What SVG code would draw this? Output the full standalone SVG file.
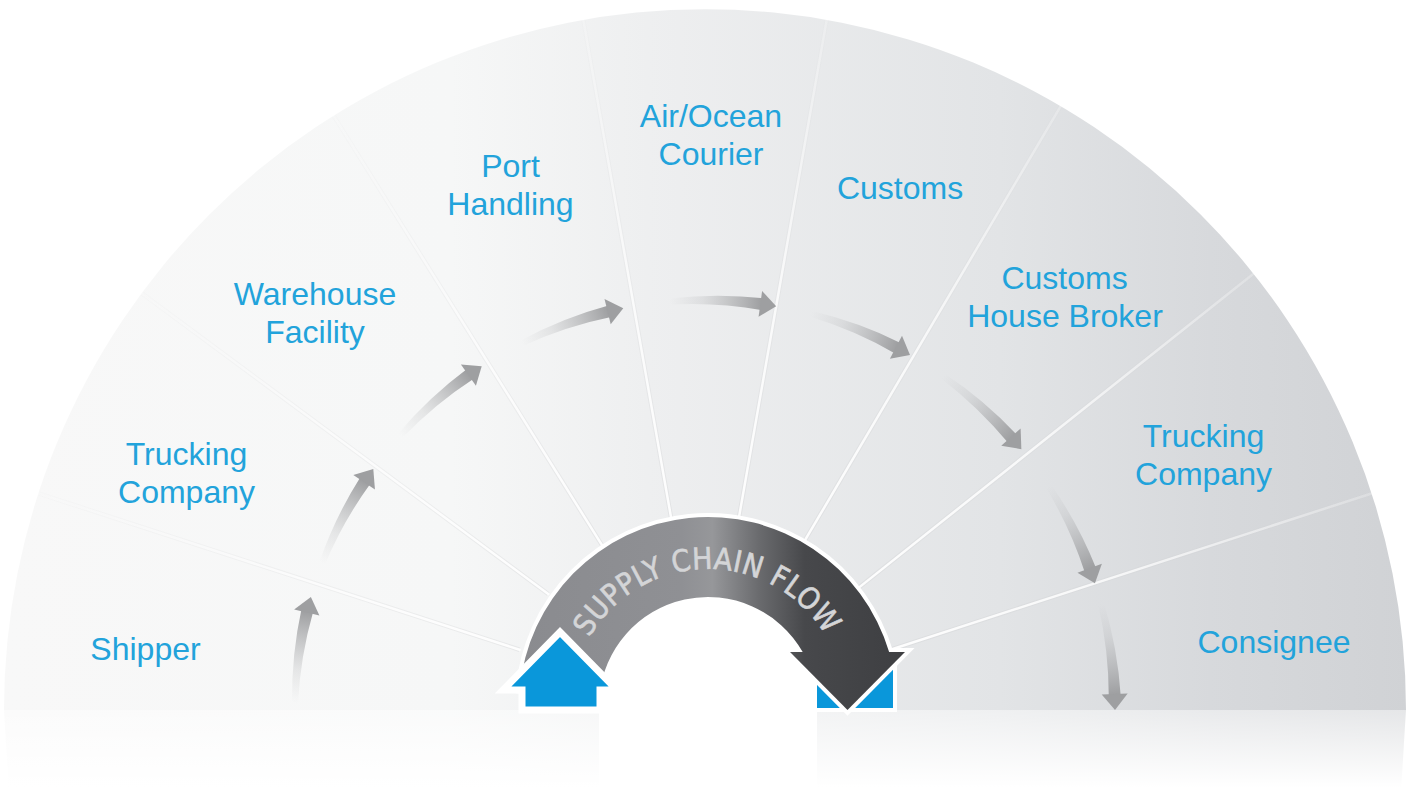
<svg xmlns="http://www.w3.org/2000/svg" width="1408" height="796" viewBox="0 0 1408 796">
<style>
.lbl{font-family:"Liberation Sans",Arial,sans-serif;font-size:32px;fill:#22a3db;text-anchor:middle}
.divs{stroke:url(#divGrad);stroke-width:2.5;stroke-linecap:round}
.divsh{stroke:url(#divShGrad);stroke-width:4.5}
.outline{fill:#ffffff;stroke:#ffffff;stroke-width:8;stroke-linejoin:miter}
.flowtxt{font-family:"DejaVu Sans Condensed","Liberation Sans Narrow","Liberation Sans",sans-serif;font-size:30px;font-weight:normal;fill:#d4d5d7;stroke:#d4d5d7;stroke-width:0.6}
</style>
<defs>
<linearGradient id="fanGrad" gradientUnits="userSpaceOnUse" x1="0" y1="0" x2="1408" y2="0">
<stop offset="0" stop-color="#f8f8f8"/>
<stop offset="0.32" stop-color="#f6f7f7"/>
<stop offset="0.46" stop-color="#eeeff0"/>
<stop offset="0.71" stop-color="#e2e4e6"/>
<stop offset="0.86" stop-color="#d7d9dc"/>
<stop offset="1" stop-color="#d0d2d5"/>
</linearGradient>
<linearGradient id="reflFade" x1="0" y1="0" x2="0" y2="1">
<stop offset="0" stop-color="#ffffff" stop-opacity="0.45"/>
<stop offset="0.9" stop-color="#ffffff" stop-opacity="1"/>
<stop offset="1" stop-color="#ffffff" stop-opacity="1"/>
</linearGradient>
<radialGradient id="divGrad" gradientUnits="userSpaceOnUse" cx="705" cy="710" r="701">
<stop offset="0.27" stop-color="#ffffff" stop-opacity="0.95"/>
<stop offset="0.6" stop-color="#ffffff" stop-opacity="0.8"/>
<stop offset="1" stop-color="#ffffff" stop-opacity="0.25"/>
</radialGradient>
<radialGradient id="divShGrad" gradientUnits="userSpaceOnUse" cx="705" cy="710" r="701">
<stop offset="0.27" stop-color="#c9cacc" stop-opacity="0.3"/>
<stop offset="1" stop-color="#c9cacc" stop-opacity="0.05"/>
</radialGradient>
<linearGradient id="bandGrad" gradientUnits="userSpaceOnUse" x1="520" y1="0" x2="905" y2="0">
<stop offset="0" stop-color="#8a8b8f"/>
<stop offset="0.42" stop-color="#8f9094"/>
<stop offset="0.5" stop-color="#96979a"/>
<stop offset="0.62" stop-color="#6a6b6e"/>
<stop offset="0.74" stop-color="#47484b"/>
<stop offset="1" stop-color="#3e3f42"/>
</linearGradient>
<linearGradient id="arrowGrad" gradientUnits="userSpaceOnUse" x1="295" y1="710" x2="306" y2="617">
<stop offset="0" stop-color="#b8b9bb" stop-opacity="0"/>
<stop offset="0.35" stop-color="#b0b1b3" stop-opacity="0.25"/>
<stop offset="1" stop-color="#9c9d9f" stop-opacity="1"/>
</linearGradient>
<g id="flowArrow">
<path d="M292,710 A413,413 0 0 1 299.99,615.01 L311.67,617.75 A407,407 0 0 0 298,710 Z" fill="url(#arrowGrad)"/>
<polygon points="308.97,603.88 292.45,616.58 317.81,622.32" fill="#9e9fa1"/>
</g>
<path id="flowArc" d="M589.35,637.5 A137,137 0 0 1 826.65,637.5" fill="none"/>
</defs>

<g id="background">
<path d="M4,710 A701,701 0 0 1 1406,710 Z" fill="url(#fanGrad)"/>
<path d="M4,710 L1406,710 L1400.7,796 L9.3,796 Z" fill="url(#fanGrad)"/>
<rect x="0" y="710" width="1408" height="86" fill="url(#reflFade)"/>
</g>

<g id="dividers">
<g class="divsh">
<line x1="519.54" y1="649.74" x2="39.26" y2="493.69"/>
<line x1="548.25" y1="594.01" x2="142.30" y2="293.63"/>
<line x1="601.67" y1="544.63" x2="334.06" y2="116.37"/>
<line x1="671.14" y1="517.96" x2="583.45" y2="20.63"/>
<line x1="738.86" y1="517.96" x2="826.55" y2="20.63"/>
<line x1="803.97" y1="541.98" x2="1060.28" y2="106.86"/>
<line x1="857.61" y1="588.61" x2="1252.83" y2="274.24"/>
<line x1="890.46" y1="649.74" x2="1370.74" y2="493.69"/>
</g>
<g class="divs">
<line x1="519.54" y1="649.74" x2="39.26" y2="493.69"/>
<line x1="548.25" y1="594.01" x2="142.30" y2="293.63"/>
<line x1="601.67" y1="544.63" x2="334.06" y2="116.37"/>
<line x1="671.14" y1="517.96" x2="583.45" y2="20.63"/>
<line x1="738.86" y1="517.96" x2="826.55" y2="20.63"/>
<line x1="803.97" y1="541.98" x2="1060.28" y2="106.86"/>
<line x1="857.61" y1="588.61" x2="1252.83" y2="274.24"/>
<line x1="890.46" y1="649.74" x2="1370.74" y2="493.69"/>
</g>
</g>

<g id="connectors">
<use href="#flowArrow" transform="rotate(1 705 710)"/>
<use href="#flowArrow" transform="rotate(21 705 710)"/>
<use href="#flowArrow" transform="rotate(42 705 710)"/>
<use href="#flowArrow" transform="rotate(63.5 705 710)"/>
<use href="#flowArrow" transform="rotate(85 705 710)"/>
<use href="#flowArrow" transform="rotate(105 705 710)"/>
<use href="#flowArrow" transform="rotate(125.5 705 710)"/>
<use href="#flowArrow" transform="rotate(147 705 710)"/>
<use href="#flowArrow" transform="rotate(165 705 710)"/>
</g>

<g id="node-shipper"><text class="lbl" x="145.5" y="660">Shipper</text></g>
<g id="node-trucking-1"><text class="lbl" x="186.5" y="465">Trucking</text><text class="lbl" x="186.5" y="503">Company</text></g>
<g id="node-warehouse"><text class="lbl" x="315" y="305">Warehouse</text><text class="lbl" x="315" y="343">Facility</text></g>
<g id="node-port"><text class="lbl" x="510.5" y="177">Port</text><text class="lbl" x="510.5" y="215">Handling</text></g>
<g id="node-air-ocean"><text class="lbl" x="711" y="127">Air/Ocean</text><text class="lbl" x="711" y="165">Courier</text></g>
<g id="node-customs"><text class="lbl" x="900" y="199">Customs</text></g>
<g id="node-broker"><text class="lbl" x="1064.5" y="289">Customs</text><text class="lbl" x="1065" y="327">House Broker</text></g>
<g id="node-trucking-2"><text class="lbl" x="1203.5" y="447">Trucking</text><text class="lbl" x="1203.5" y="485">Company</text></g>
<g id="node-consignee"><text class="lbl" x="1274" y="653">Consignee</text></g>

<g id="supply-chain-flow">
<circle cx="708" cy="706" r="109" fill="#ffffff"/>
<rect x="599" y="706" width="218" height="90" fill="#ffffff"/>
<rect x="815" y="664" width="80" height="46" fill="#0a97da" stroke="#ffffff" stroke-width="4"/>
<path class="outline" d="M519.72,689.53 A189,189 0 0 1 889.12,652 L802.68,652 A109,109 0 0 0 599.41,696.5 Z"/>
<polygon class="outline" points="790,652 905,652 847.5,710"/>
<path d="M519.72,689.53 A189,189 0 0 1 889.12,652 L802.68,652 A109,109 0 0 0 599.41,696.5 Z" fill="url(#bandGrad)"/>
<polygon points="790,652 905,652 847.5,710" fill="url(#bandGrad)"/>
<text class="flowtxt"><textPath href="#flowArc" textLength="284" lengthAdjust="spacing">SUPPLY CHAIN FLOW</textPath></text>
<polygon points="560,632 617,690 600,690 600,710 522,710 522,690 503,690" fill="#0a97da" stroke="#ffffff" stroke-width="7" stroke-linejoin="miter"/>
</g>
</svg>
